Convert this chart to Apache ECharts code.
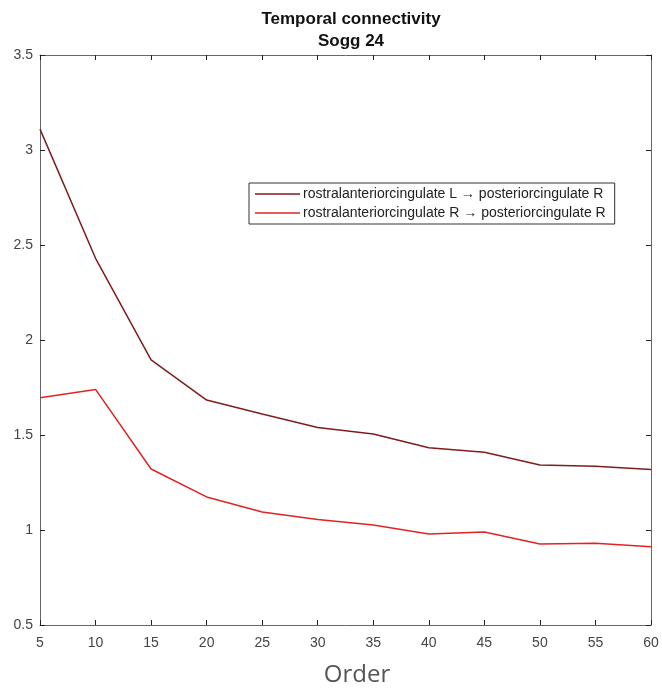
<!DOCTYPE html>
<html><head><meta charset="utf-8">
<script src="https://cdn.jsdelivr.net/npm/echarts@6/dist/echarts.min.js"></script>
<style>html,body{margin:0;padding:0;background:#fff}#c{width:662px;height:690px}</style>
</head><body><div id="c"></div>
<script>
const orders = [5,10,15,20,25,30,35,40,45,50,55,60];
const seriesL = [3.11,2.43,1.895,1.684,1.61,1.54,1.505,1.433,1.409,1.342,1.336,1.318];
const seriesR = [1.696,1.74,1.321,1.174,1.095,1.055,1.026,0.979,0.99,0.926,0.93,0.912];
const nameL = 'rostralanteriorcingulate L \u2192 posteriorcingulate R';
const nameR = 'rostralanteriorcingulate R \u2192 posteriorcingulate R';
const yTicks = [0.5,1,1.5,2,2.5,3,3.5];

const chart = echarts.init(document.getElementById('c'));
const axisCol = '#666';
const font = 'Liberation Sans, Arial, sans-serif';
chart.setOption({
  animation: false,
  backgroundColor: '#fff',
  title: {
    text: 'Temporal connectivity\nSogg 24',
    left: 346, top: 3, textAlign: 'center',
    textStyle: {fontFamily: font, fontSize: 17, fontWeight: 'bold', color: '#111', lineHeight: 22}
  },
  legend: {
    orient: 'vertical', left: 249, top: 183,
    icon: 'rect', itemWidth: 45, itemHeight: 1.5, itemGap: 3,
    padding: [3, 9, 3, 6],
    borderColor: '#333', borderWidth: 1, backgroundColor: '#fff',
    textStyle: {fontFamily: font, fontSize: 14, color: '#222', lineHeight: 16, padding: [0,0,0,-2]},
    data: [nameL, nameR]
  },
  grid: {left: 40, right: 11, top: 55, bottom: 65, containLabel: false},
  xAxis: [{
    type: 'value', min: 5, max: 60, interval: 5,
    axisLine: {lineStyle: {color: axisCol, width: 1}},
    axisTick: {inside: true, length: 5, lineStyle: {color: '#222'}},
    axisLabel: {fontFamily: font, fontSize: 14, color: '#444', margin: 11},
    splitLine: {show: false}
  },{
    type: 'value', position: 'top', min: 5, max: 60, interval: 5,
    axisLine: {show: true, lineStyle: {color: axisCol, width: 1}},
    axisTick: {inside: true, length: 5, lineStyle: {color: '#222'}},
    axisLabel: {show: false}, splitLine: {show: false}
  }],
  yAxis: [{
    type: 'value', min: 0.5, max: 3.5, interval: 0.5,
    axisLine: {show: true, lineStyle: {color: axisCol, width: 1}},
    axisTick: {show: true, inside: true, length: 5, lineStyle: {color: '#222'}},
    axisLabel: {fontFamily: font, fontSize: 14, color: '#444', margin: 7,
      formatter: v => yTicks.indexOf(+v.toFixed(1)) >= 0 ? String(+v.toFixed(1)) : ''},
    splitLine: {show: false}
  },{
    type: 'value', position: 'right', min: 0.5, max: 3.5, interval: 0.5,
    axisLine: {show: true, lineStyle: {color: axisCol, width: 1}},
    axisTick: {show: true, inside: true, length: 5, lineStyle: {color: '#222'}},
    axisLabel: {show: false}, splitLine: {show: false}
  }],
  graphic: [{
    type: 'text', x: 357, y: 675,
    style: {text: 'Order', fontFamily: 'Open Sans, Noto Sans, sans-serif', fontSize: 24, fill: '#555', align: 'center', verticalAlign: 'middle'}
  }],
  series: [{
    name: nameL, type: 'line', symbol: 'none', xAxisIndex: 0, yAxisIndex: 0,
    data: orders.map((o,i) => [o, seriesL[i]]),
    lineStyle: {color: '#7f1d1d', width: 1.5}, itemStyle: {color: '#7f1d1d'}
  },{
    name: nameR, type: 'line', symbol: 'none', xAxisIndex: 0, yAxisIndex: 0,
    data: orders.map((o,i) => [o, seriesR[i]]),
    lineStyle: {color: '#e02424', width: 1.5}, itemStyle: {color: '#e02424'}
  }]
});
</script></body></html>
